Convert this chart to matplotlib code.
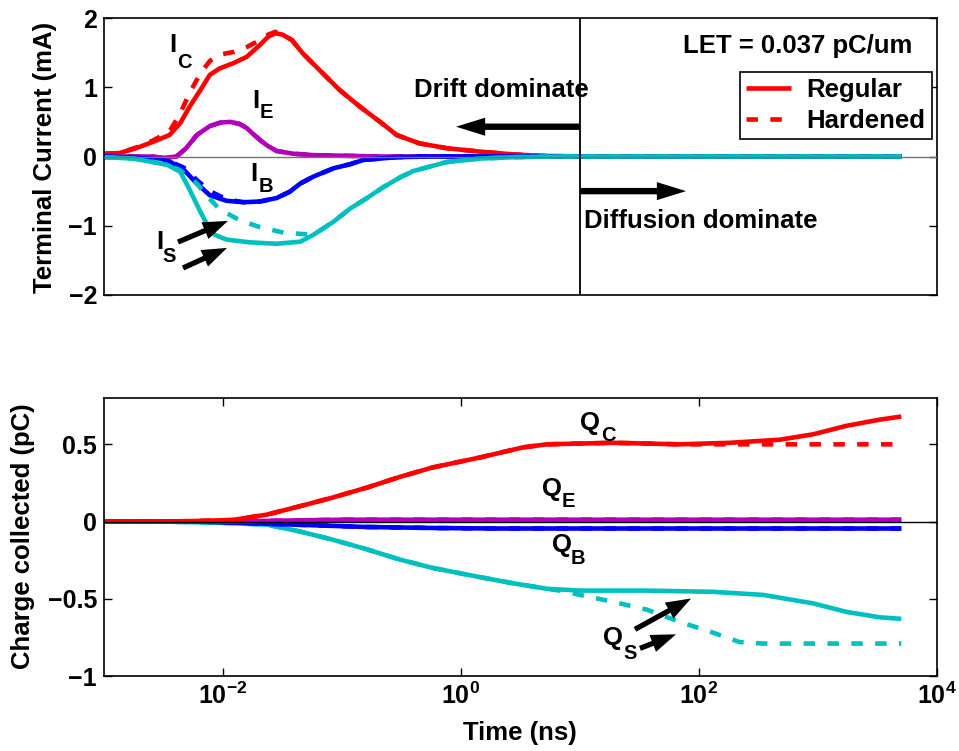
import numpy as np
import matplotlib
matplotlib.use("Agg")
import matplotlib.pyplot as plt

plt.rcParams['font.family'] = ['Liberation Sans', 'DejaVu Sans']
plt.rcParams['font.weight'] = 'bold'
plt.rcParams['mathtext.fontset'] = 'custom'
plt.rcParams['mathtext.rm'] = 'Liberation Sans:bold'
plt.rcParams['mathtext.bf'] = 'Liberation Sans:bold'
plt.rcParams['mathtext.it'] = 'Liberation Sans:bold'
plt.rcParams['mathtext.default'] = 'bf'

# ---------------- terminal currents (mA) vs log10(time / ns) ----------------
ic_reg_logt = [-3.0, -2.87, -2.73, -2.59, -2.45, -2.36, -2.28, -2.19, -2.11, -2.03, -1.91,
               -1.80, -1.69, -1.62, -1.56, -1.50, -1.42, -1.33, -1.19, -1.02, -0.85, -0.68,
               -0.54, -0.35, -0.12, 0.16, 0.44, 0.66, 1.0, 3.7]
ic_reg = [0.04, 0.05, 0.12, 0.21, 0.31, 0.48, 0.72, 0.96, 1.18, 1.27, 1.35,
          1.44, 1.61, 1.73, 1.78, 1.76, 1.68, 1.49, 1.25, 0.96, 0.72, 0.50,
          0.31, 0.19, 0.12, 0.07, 0.03, 0.01, 0.0, 0.0]
ic_hard_logt = ic_reg_logt
ic_hard = [0.04, 0.05, 0.13, 0.23, 0.36, 0.62, 0.92, 1.20, 1.38, 1.47, 1.51,
           1.58, 1.68, 1.76, 1.80, 1.77, 1.68, 1.49, 1.25, 0.96, 0.72, 0.50,
           0.31, 0.19, 0.12, 0.07, 0.03, 0.01, 0.0, 0.0]

ie_logt = [-3.0, -2.6, -2.5, -2.39, -2.31, -2.22, -2.11, -2.02, -1.94, -1.86, -1.80,
           -1.75, -1.69, -1.63, -1.55, -1.41, -1.24, -0.68, 1.0, 3.7]
ie_reg = [0.0, 0.0, -0.02, 0.0, 0.12, 0.31, 0.44, 0.49, 0.50, 0.47, 0.41,
          0.33, 0.24, 0.16, 0.08, 0.04, 0.02, 0.0, 0.0, 0.0]
ie_hard = ie_reg

ib_logt = [-3.0, -2.61, -2.45, -2.33, -2.22, -2.11, -1.97, -1.83, -1.69, -1.55, -1.44,
           -1.35, -1.24, -1.07, -0.93, -0.82, -0.54, -0.26, 1.0, 3.7]
ib_reg = [0.0, -0.03, -0.07, -0.19, -0.39, -0.56, -0.64, -0.66, -0.65, -0.60, -0.51,
          -0.39, -0.29, -0.17, -0.11, -0.05, -0.01, 0.0, 0.0, 0.0]
ib_hard = [0.0, -0.03, -0.07, -0.16, -0.34, -0.50, -0.62, -0.66, -0.65, -0.60, -0.51,
           -0.39, -0.29, -0.17, -0.11, -0.05, -0.01, 0.0, 0.0, 0.0]

is_reg_logt = [-3.0, -2.75, -2.47, -2.36, -2.28, -2.19, -2.14, -2.07, -1.97, -1.77, -1.55,
               -1.35, -1.24, -1.07, -0.93, -0.79, -0.66, -0.51, -0.40, -0.12, 0.16, 0.44,
               0.83, 1.0, 3.7]
is_reg = [-0.01, -0.03, -0.12, -0.22, -0.48, -0.80, -0.96, -1.13, -1.20, -1.24, -1.26,
          -1.23, -1.13, -0.94, -0.75, -0.60, -0.45, -0.30, -0.21, -0.08, -0.03, -0.01,
          0.0, 0.0, 0.0]
is_hard_logt = [-3.0, -2.75, -2.47, -2.36, -2.22, -2.14, -2.03, -1.86, -1.69, -1.49, -1.33,
                -1.24, -1.07, -0.93, -0.79, -0.66, -0.51, -0.40, -0.12, 0.16, 0.44,
                0.83, 1.0, 3.7]
is_hard = [-0.01, -0.03, -0.11, -0.20, -0.39, -0.56, -0.76, -0.92, -1.02, -1.10, -1.12,
           -1.13, -0.94, -0.75, -0.60, -0.45, -0.30, -0.21, -0.08, -0.03, -0.01,
           0.0, 0.0, 0.0]

# ---------------- collected charge (pC) vs log10(time / ns) ----------------
qc_reg_logt = [-3.0, -2.5, -2.2, -1.92, -1.63, -1.35, -1.08, -0.79, -0.51, -0.24, 0.16,
               0.52, 0.72, 1.28, 1.84, 2.26, 2.68, 2.96, 3.24, 3.52, 3.70]
qc_reg = [0.0, 0.0, 0.004, 0.01, 0.045, 0.10, 0.155, 0.22, 0.29, 0.35, 0.415,
          0.48, 0.50, 0.51, 0.50, 0.51, 0.53, 0.565, 0.62, 0.66, 0.68]
qc_hard_logt = [-3.0, -2.5, -2.2, -1.92, -1.63, -1.35, -1.08, -0.79, -0.51, -0.24, 0.16,
                0.52, 0.72, 1.28, 1.84, 2.26, 2.68, 3.70]
qc_hard = [0.0, 0.0, 0.004, 0.01, 0.045, 0.10, 0.155, 0.22, 0.29, 0.35, 0.415,
           0.48, 0.50, 0.51, 0.50, 0.50, 0.50, 0.50]

qe_logt = [-3.0, -2.0, -1.5, -1.0, 3.7]
qe_reg = [0.0, 0.0, 0.006, 0.012, 0.012]
qe_hard = qe_reg

qb_logt = [-3.0, -2.2, -1.8, -1.2, -0.8, -0.2, 0.3, 3.7]
qb_reg = [0.0, 0.0, -0.01, -0.025, -0.035, -0.042, -0.045, -0.045]
qb_hard = qb_reg

qs_reg_logt = [-3.0, -2.5, -2.2, -1.92, -1.63, -1.35, -1.08, -0.79, -0.51, -0.24, 0.16,
               0.44, 0.72, 1.0, 1.56, 2.12, 2.54, 2.96, 3.24, 3.52, 3.70]
qs_reg = [0.0, 0.0, -0.005, -0.01, -0.02, -0.065, -0.117, -0.18, -0.247, -0.30, -0.36,
          -0.40, -0.435, -0.447, -0.447, -0.455, -0.475, -0.53, -0.585, -0.62, -0.63]
qs_hard_logt = [-3.0, -2.5, -2.2, -1.92, -1.63, -1.35, -1.08, -0.79, -0.51, -0.24, 0.16,
                0.44, 0.72, 0.86, 1.0, 1.28, 1.56, 1.84, 2.12, 2.34, 2.54, 3.70]
qs_hard = [0.0, 0.0, -0.005, -0.01, -0.02, -0.065, -0.117, -0.18, -0.247, -0.30, -0.36,
           -0.40, -0.435, -0.45, -0.475, -0.52, -0.57, -0.65, -0.72, -0.78, -0.79, -0.79]

RED, MAG, BLUE, CYAN = '#ff0000', '#b000b8', '#0000ff', '#00bfbf'
LW = 3.3
DASH = (2.5, 2.7)


def t(logt):
    return 10.0 ** np.asarray(logt)


fig = plt.figure(figsize=(9.59, 7.51), dpi=100)
W, H = 959.0, 751.0
ax1 = fig.add_axes([104 / W, 1 - 295 / H, 833 / W, 277 / H])
ax2 = fig.add_axes([104 / W, 1 - 676 / H, 833 / W, 278 / H])

# ---- top panel: terminal currents ----
top_series = [
    (ic_reg_logt, ic_reg, ic_hard_logt, ic_hard, RED),
    (ie_logt, ie_reg, ie_logt, ie_hard, MAG),
    (ib_logt, ib_reg, ib_logt, ib_hard, BLUE),
    (is_reg_logt, is_reg, is_hard_logt, is_hard, CYAN),
]
for lt_r, y_r, lt_h, y_h, c in top_series:
    ax1.plot(t(lt_r), y_r, color=c, lw=LW, solid_capstyle='butt', solid_joinstyle='round')
    ax1.plot(t(lt_h), y_h, color=c, lw=LW, dashes=DASH, dash_capstyle='butt')

ax1.axhline(0, color='0.45', lw=1.0, zorder=6)
ax1.axvline(10, color='k', lw=1.3, zorder=6)
ax1.set_xscale('log')
ax1.set_xlim(1e-3, 1e4)
ax1.set_ylim(-2, 2)
ax1.set_yticks([-2, -1, 0, 1, 2])
ax1.set_yticklabels(['\u22122', '\u22121', '0', '1', '2'])
ax1.set_xticks([])
ax1.xaxis.set_minor_locator(matplotlib.ticker.NullLocator())

# legend for the line styles
h_reg, = ax1.plot([], [], color=RED, lw=LW, solid_capstyle='butt', label='Regular')
h_hard, = ax1.plot([], [], color=RED, lw=LW, dashes=DASH, dash_capstyle='butt', label='Hardened')
leg = ax1.legend(handles=[h_reg, h_hard], loc='upper right',
                 bbox_to_anchor=(932 / W, 1 - 72 / H), bbox_transform=fig.transFigure,
                 borderaxespad=0, fancybox=False, framealpha=1, edgecolor='k',
                 fontsize=18.5, handlelength=1.75, handletextpad=0.6,
                 borderpad=0.25, labelspacing=0.25)
leg.get_frame().set_linewidth(1.2)

ax1.text(10 ** 1.866, 1.49, 'LET = 0.037 pC/um', fontsize=18.5, ha='left', va='baseline')
ax1.text(10 ** -0.395, 0.855, 'Drift dominate', fontsize=18.5, ha='left', va='baseline')
ax1.text(10 ** 1.034, -1.037, 'Diffusion dominate', fontsize=18.5, ha='left', va='baseline')


def arrow(ax, tail, tip, hl=18, hw=13, tw=3.8):
    ax.annotate('', xy=(10 ** tip[0], tip[1]), xytext=(10 ** tail[0], tail[1]),
                arrowprops=dict(arrowstyle=f'simple,head_length={hl},head_width={hw},tail_width={tw}',
                                mutation_scale=1, fc='k', ec='none', lw=0,
                                shrinkA=0, shrinkB=0), zorder=7)


arrow(ax1, (1.0, 0.43), (-0.042, 0.43), hl=21, hw=13, tw=4.6)
arrow(ax1, (1.0, -0.50), (1.891, -0.50), hl=21, hw=13, tw=4.6)
arrow(ax1, (-2.378, -1.235), (-1.958, -0.93))
arrow(ax1, (-2.336, -1.61), (-1.966, -1.32))


def sublabel(ax, main, sub, pos_main, pos_sub, big=18.5, small=14.5):
    ax.text(10 ** pos_main[0], pos_main[1], main, fontsize=big, ha='center', va='center')
    ax.text(10 ** pos_sub[0], pos_sub[1], sub, fontsize=small, ha='center', va='center')


sublabel(ax1, 'I', 'C', (-2.42, 1.61), (-2.328, 1.36))
sublabel(ax1, 'I', 'E', (-1.723, 0.80), (-1.639, 0.63))
sublabel(ax1, 'I', 'B', (-1.74, -0.25), (-1.64, -0.44))
sublabel(ax1, 'I', 'S', (-2.53, -1.23), (-2.454, -1.44))

# ---- bottom panel: collected charge ----
bottom_series = [
    (qs_reg_logt, qs_reg, qs_hard_logt, qs_hard, CYAN),
    (qb_logt, qb_reg, qb_logt, qb_hard, BLUE),
    (qe_logt, qe_reg, qe_logt, qe_hard, MAG),
    (qc_reg_logt, qc_reg, qc_hard_logt, qc_hard, RED),
]
for lt_r, y_r, lt_h, y_h, c in bottom_series:
    ax2.plot(t(lt_r), y_r, color=c, lw=LW, solid_capstyle='butt', solid_joinstyle='round')
    ax2.plot(t(lt_h), y_h, color=c, lw=LW, dashes=DASH, dash_capstyle='butt')

ax2.axhline(0, color='k', lw=1.0, zorder=6)
ax2.set_xscale('log')
ax2.set_xlim(1e-3, 1e4)
ax2.set_ylim(-1, 0.8)
ax2.set_yticks([-1, -0.5, 0, 0.5])
ax2.set_yticklabels(['\u22121', '\u22120.5', '0', '0.5'])
ax2.set_xticks([1e-2, 1e0, 1e2, 1e4])
ax2.set_xticklabels([r'$10^{-2}$', r'$10^{0}$', r'$10^{2}$', r'$10^{4}$'])
ax2.xaxis.set_minor_locator(matplotlib.ticker.NullLocator())

sublabel(ax2, 'Q', 'C', (1.084, 0.64), (1.235, 0.556))
sublabel(ax2, 'Q', 'E', (0.765, 0.213), (0.899, 0.129))
sublabel(ax2, 'Q', 'B', (0.849, -0.155), (0.983, -0.239))
sublabel(ax2, 'Q', 'S', (1.277, -0.756), (1.420, -0.853))
arrow(ax2, (1.462, -0.698), (1.933, -0.498))
arrow(ax2, (1.504, -0.821), (1.807, -0.730))

for ax in (ax1, ax2):
    for s in ax.spines.values():
        s.set_linewidth(1.2)
    ax.tick_params(axis='both', which='both', direction='in', length=6, width=1.0,
                   top=True, right=True, labelsize=18, pad=5)

fig.text(45 / W, 1 - 157 / H, 'Terminal Current (mA)', rotation=90, fontsize=18.5,
         ha='center', va='center')
fig.text(23 / W, 1 - 536 / H, 'Charge collected (pC)', rotation=90, fontsize=18.5,
         ha='center', va='center')
fig.text(520 / W, 1 - 733 / H, 'Time (ns)', fontsize=18.5, ha='center', va='center')

fig.savefig('out.png', dpi=100)
